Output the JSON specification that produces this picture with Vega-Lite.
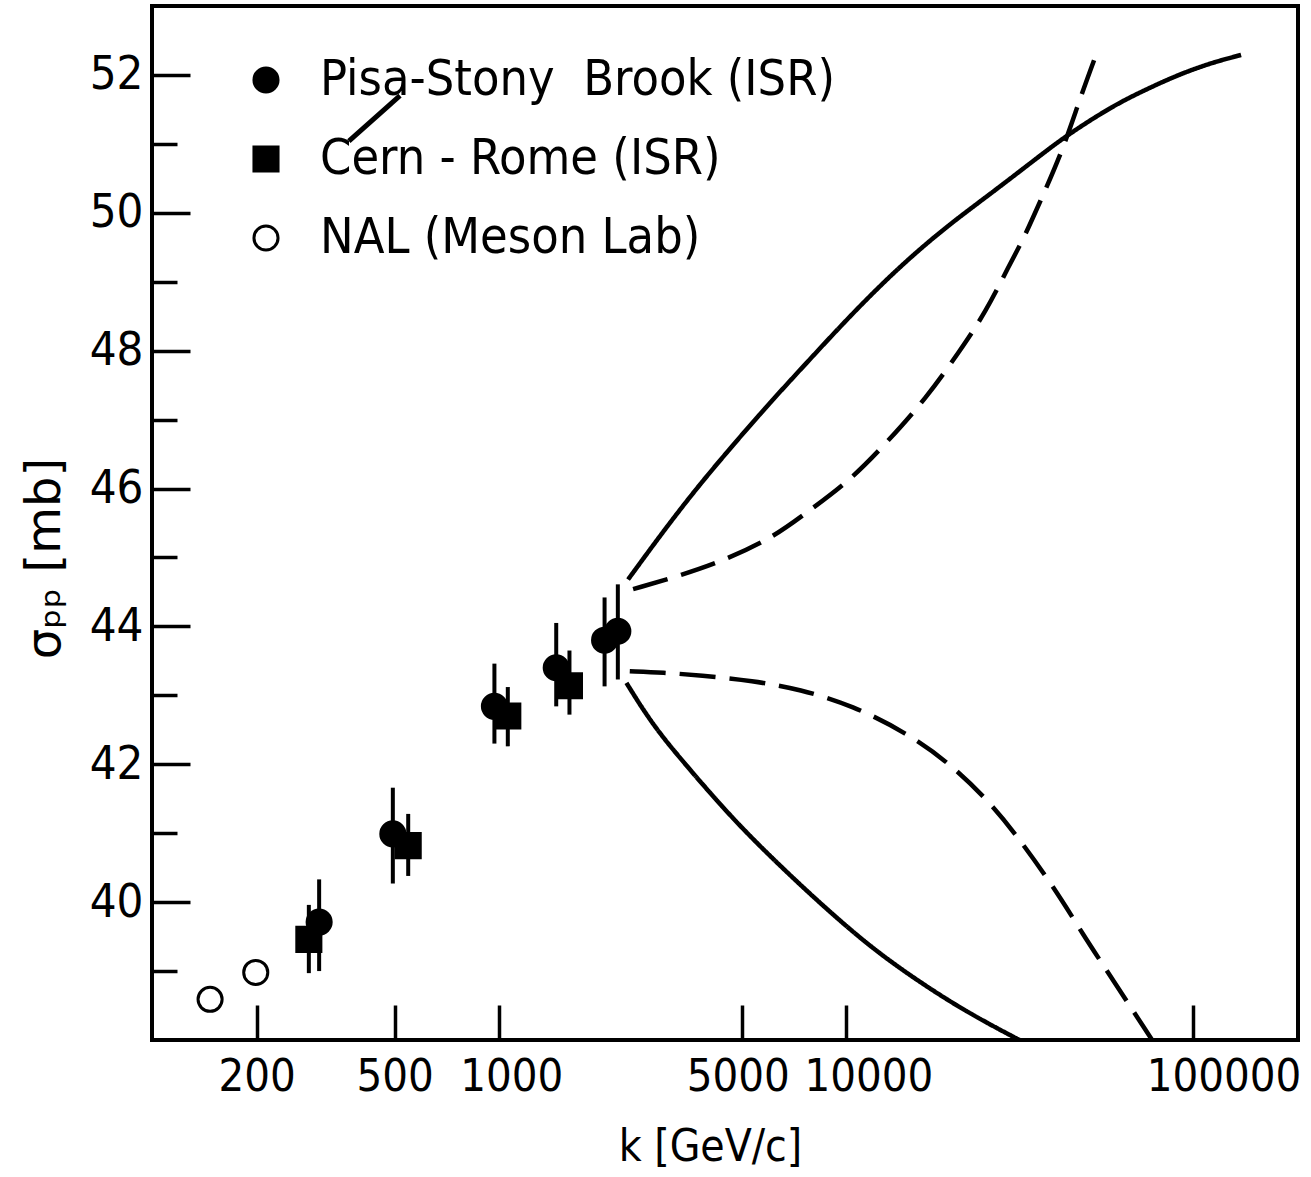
{
  "$schema": "https://vega.github.io/schema/vega-lite/v6.json",
  "width": 1146,
  "height": 1034,
  "autosize": {"type": "none"},
  "padding": {"left": 152, "top": 6, "right": 13, "bottom": 137},
  "background": "white",
  "config": {
    "view": {"stroke": "black", "strokeWidth": 4},
    "font": "DejaVu Sans Condensed",
    "axis": {
      "labelFont": "DejaVu Sans Condensed",
      "titleFont": "DejaVu Sans Condensed",
      "labelColor": "black",
      "titleColor": "black",
      "tickColor": "black",
      "domain": false,
      "grid": false,
      "labelFontWeight": "normal",
      "titleFontWeight": "normal",
      "labelOverlap": false,
      "labelFlush": false,
      "labelBound": false
    },
    "legend": {
      "orient": "none",
      "legendX": 89,
      "legendY": 49,
      "labelFont": "DejaVu Sans Condensed",
      "labelFontSize": 50,
      "labelColor": "black",
      "labelOffset": 29,
      "labelLimit": 0,
      "rowPadding": 29,
      "symbolSize": 580,
      "symbolStrokeWidth": 3,
      "symbolStrokeColor": "black",
      "padding": 0
    }
  },
  "datasets": {
    "points": [
      {"series": "Pisa-Stony\u00a0 Brook (ISR)", "k": 303, "sigma": 39.71, "lo": 39.0, "hi": 40.33},
      {"series": "Pisa-Stony\u00a0 Brook (ISR)", "k": 494, "sigma": 40.99, "lo": 40.27, "hi": 41.66},
      {"series": "Pisa-Stony\u00a0 Brook (ISR)", "k": 969, "sigma": 42.84, "lo": 42.30, "hi": 43.46},
      {"series": "Pisa-Stony\u00a0 Brook (ISR)", "k": 1460, "sigma": 43.40, "lo": 42.84, "hi": 44.05},
      {"series": "Pisa-Stony\u00a0 Brook (ISR)", "k": 2012, "sigma": 43.80, "lo": 43.13, "hi": 44.42},
      {"series": "Pisa-Stony\u00a0 Brook (ISR)", "k": 2197, "sigma": 43.93, "lo": 43.23, "hi": 44.61},
      {"series": "Cern - Rome (ISR)", "k": 283, "sigma": 39.46, "lo": 38.97, "hi": 39.96},
      {"series": "Cern - Rome (ISR)", "k": 547, "sigma": 40.82, "lo": 40.38, "hi": 41.28},
      {"series": "Cern - Rome (ISR)", "k": 1059, "sigma": 42.70, "lo": 42.26, "hi": 43.12},
      {"series": "Cern - Rome (ISR)", "k": 1594, "sigma": 43.14, "lo": 42.72, "hi": 43.65},
      {"series": "NAL (Meson Lab)", "k": 147, "sigma": 38.59, "lo": null, "hi": null},
      {"series": "NAL (Meson Lab)", "k": 199, "sigma": 38.98, "lo": null, "hi": null}
    ],
    "curves": [
      {"curve": "us", "style": "solid", "k": 2351, "v": 44.68},
      {"curve": "us", "style": "solid", "k": 2901, "v": 45.31},
      {"curve": "us", "style": "solid", "k": 3617, "v": 45.94},
      {"curve": "us", "style": "solid", "k": 4514, "v": 46.52},
      {"curve": "us", "style": "solid", "k": 5885, "v": 47.19},
      {"curve": "us", "style": "solid", "k": 7673, "v": 47.82},
      {"curve": "us", "style": "solid", "k": 10447, "v": 48.55},
      {"curve": "us", "style": "solid", "k": 14237, "v": 49.22},
      {"curve": "us", "style": "solid", "k": 19406, "v": 49.80},
      {"curve": "us", "style": "solid", "k": 26424, "v": 50.30},
      {"curve": "us", "style": "solid", "k": 36800, "v": 50.86},
      {"curve": "us", "style": "solid", "k": 43355, "v": 51.13},
      {"curve": "us", "style": "solid", "k": 58442, "v": 51.55},
      {"curve": "us", "style": "solid", "k": 73044, "v": 51.79},
      {"curve": "us", "style": "solid", "k": 91071, "v": 52.01},
      {"curve": "us", "style": "solid", "k": 113340, "v": 52.18},
      {"curve": "us", "style": "solid", "k": 137090, "v": 52.29},
      {"curve": "ud", "style": "dashed", "k": 2431, "v": 44.54},
      {"curve": "ud", "style": "dashed", "k": 3385, "v": 44.75},
      {"curve": "ud", "style": "dashed", "k": 4514, "v": 44.97},
      {"curve": "ud", "style": "dashed", "k": 6149, "v": 45.29},
      {"curve": "ud", "style": "dashed", "k": 7673, "v": 45.65},
      {"curve": "ud", "style": "dashed", "k": 10221, "v": 46.11},
      {"curve": "ud", "style": "dashed", "k": 13038, "v": 46.66},
      {"curve": "ud", "style": "dashed", "k": 16994, "v": 47.31},
      {"curve": "ud", "style": "dashed", "k": 21190, "v": 47.99},
      {"curve": "ud", "style": "dashed", "k": 25293, "v": 48.57},
      {"curve": "ud", "style": "dashed", "k": 29519, "v": 49.25},
      {"curve": "ud", "style": "dashed", "k": 32240, "v": 49.60},
      {"curve": "ud", "style": "dashed", "k": 36005, "v": 50.14},
      {"curve": "ud", "style": "dashed", "k": 42030, "v": 50.91},
      {"curve": "ud", "style": "dashed", "k": 46960, "v": 51.64},
      {"curve": "ud", "style": "dashed", "k": 52650, "v": 52.32},
      {"curve": "ld", "style": "dashed", "k": 2378, "v": 43.35},
      {"curve": "ld", "style": "dashed", "k": 2966, "v": 43.33},
      {"curve": "ld", "style": "dashed", "k": 3782, "v": 43.29},
      {"curve": "ld", "style": "dashed", "k": 5385, "v": 43.21},
      {"curve": "ld", "style": "dashed", "k": 7339, "v": 43.09},
      {"curve": "ld", "style": "dashed", "k": 10447, "v": 42.85},
      {"curve": "ld", "style": "dashed", "k": 14885, "v": 42.46},
      {"curve": "ld", "style": "dashed", "k": 20275, "v": 41.98},
      {"curve": "ld", "style": "dashed", "k": 26424, "v": 41.40},
      {"curve": "ld", "style": "dashed", "k": 31540, "v": 40.91},
      {"curve": "ld", "style": "dashed", "k": 39330, "v": 40.24},
      {"curve": "ld", "style": "dashed", "k": 49080, "v": 39.46},
      {"curve": "ld", "style": "dashed", "k": 53590, "v": 39.17},
      {"curve": "ld", "style": "dashed", "k": 76000, "v": 38.0},
      {"curve": "ls", "style": "solid", "k": 2326, "v": 43.18},
      {"curve": "ls", "style": "solid", "k": 2775, "v": 42.56},
      {"curve": "ls", "style": "solid", "k": 3462, "v": 41.98},
      {"curve": "ls", "style": "solid", "k": 4716, "v": 41.20},
      {"curve": "ls", "style": "solid", "k": 6427, "v": 40.53},
      {"curve": "ls", "style": "solid", "k": 8758, "v": 39.90},
      {"curve": "ls", "style": "solid", "k": 11930, "v": 39.32},
      {"curve": "ls", "style": "solid", "k": 16255, "v": 38.84},
      {"curve": "ls", "style": "solid", "k": 22150, "v": 38.41},
      {"curve": "ls", "style": "solid", "k": 30170, "v": 38.05},
      {"curve": "ls", "style": "solid", "k": 31540, "v": 38.0}
    ],
    "stroke": [
      {"k1": 369, "v1": 51.04, "k2": 518, "v2": 51.70}
    ]
  },
  "layer": [
    {
      "data": {"name": "points"},
      "transform": [{"filter": "datum.hi != null"}],
      "mark": {"type": "rule", "strokeWidth": 4, "color": "black"},
      "encoding": {
        "x": {
          "field": "k", "type": "quantitative",
          "scale": {"type": "log", "domain": [100, 200000], "nice": false},
          "axis": {
            "orient": "bottom",
            "values": [200, 500, 1000, 5000, 10000, 100000],
            "format": "d",
            "ticks": false,
            "labelFontSize": 45,
            "labelPadding": 14,
            "labelOffset": {"condition": [
              {"test": "datum.value == 1000", "value": 12},
              {"test": "datum.value == 5000", "value": -4},
              {"test": "datum.value == 10000", "value": 22},
              {"test": "datum.value == 100000", "value": 30}
            ], "value": 0},
            "title": "k [GeV/c]",
            "titleFontSize": 44,
            "titleX": 558,
            "titleY": 107,
            "titleAlign": "center",
            "titleBaseline": "middle"
          }
        },
        "y": {
          "field": "lo", "type": "quantitative",
          "scale": {"domain": [38, 53], "nice": false, "zero": false},
          "axis": {
            "orient": "left",
            "values": [40, 42, 44, 46, 48, 50, 52],
            "ticks": false,
            "labelFontSize": 47,
            "labelPadding": 9,
            "title": "σₚₚ [mb]",
            "titleFont": "DejaVu Sans",
            "titleFontSize": 48,
            "titleX": -107,
            "titleY": 552,
            "titleAlign": "center",
            "titleBaseline": "middle"
          }
        },
        "y2": {"field": "hi"}
      }
    },
    {
      "data": {"name": "points"},
      "mark": {"type": "point", "filled": true, "strokeWidth": 3, "size": 580, "opacity": 1},
      "encoding": {
        "x": {
          "field": "k", "type": "quantitative",
          "scale": {"type": "log", "domain": [100, 200000], "nice": false},
          "axis": {
            "orient": "bottom",
            "values": [200, 500, 1000, 5000, 10000, 100000],
            "ticks": true, "tickSize": -35, "tickWidth": 3.5,
            "labels": false, "title": null
          }
        },
        "y": {
          "field": "sigma", "type": "quantitative",
          "scale": {"domain": [38, 53], "nice": false, "zero": false},
          "axis": {
            "orient": "left",
            "values": [40, 42, 44, 46, 48, 50, 52],
            "ticks": true, "tickSize": -38, "tickWidth": 3.5,
            "labels": false, "title": null
          }
        },
        "shape": {
          "field": "series", "type": "nominal",
          "scale": {"domain": ["Pisa-Stony\u00a0 Brook (ISR)", "Cern - Rome (ISR)", "NAL (Meson Lab)"], "range": ["circle", "square", "circle"]},
          "legend": {"title": null}
        },
        "fill": {
          "field": "series", "type": "nominal",
          "scale": {"domain": ["Pisa-Stony\u00a0 Brook (ISR)", "Cern - Rome (ISR)", "NAL (Meson Lab)"], "range": ["black", "black", "white"]},
          "legend": {"title": null}
        },
        "stroke": {
          "field": "series", "type": "nominal",
          "scale": {"domain": ["Pisa-Stony\u00a0 Brook (ISR)", "Cern - Rome (ISR)", "NAL (Meson Lab)"], "range": ["black", "black", "black"]},
          "legend": {"title": null}
        }
      }
    },
    {
      "data": {"name": "curves"},
      "mark": {"type": "line", "strokeWidth": 4.5, "color": "black", "clip": true, "interpolate": "basis"},
      "encoding": {
        "x": {
          "field": "k", "type": "quantitative",
          "scale": {"type": "log", "domain": [100, 200000], "nice": false},
          "axis": null
        },
        "y": {
          "field": "v", "type": "quantitative",
          "scale": {"domain": [38, 53], "nice": false, "zero": false},
          "axis": {
            "orient": "left",
            "values": [39, 41, 43, 45, 47, 49, 51],
            "ticks": true, "tickSize": -25, "tickWidth": 3.5,
            "labels": false, "title": null
          }
        },
        "detail": {"field": "curve", "type": "nominal"},
        "strokeDash": {
          "field": "style", "type": "nominal",
          "scale": {"domain": ["solid", "dashed"], "range": [[1, 0], [36, 14]]},
          "legend": null
        }
      }
    },
    {
      "data": {"name": "stroke"},
      "mark": {"type": "rule", "strokeWidth": 5, "color": "black"},
      "encoding": {
        "x": {"field": "k1", "type": "quantitative", "scale": {"type": "log", "domain": [100, 200000], "nice": false}, "axis": null},
        "x2": {"field": "k2"},
        "y": {"field": "v1", "type": "quantitative", "scale": {"domain": [38, 53], "nice": false, "zero": false}, "axis": null},
        "y2": {"field": "v2"}
      }
    }
  ],
  "resolve": {"axis": {"x": "independent", "y": "independent"}}
}
